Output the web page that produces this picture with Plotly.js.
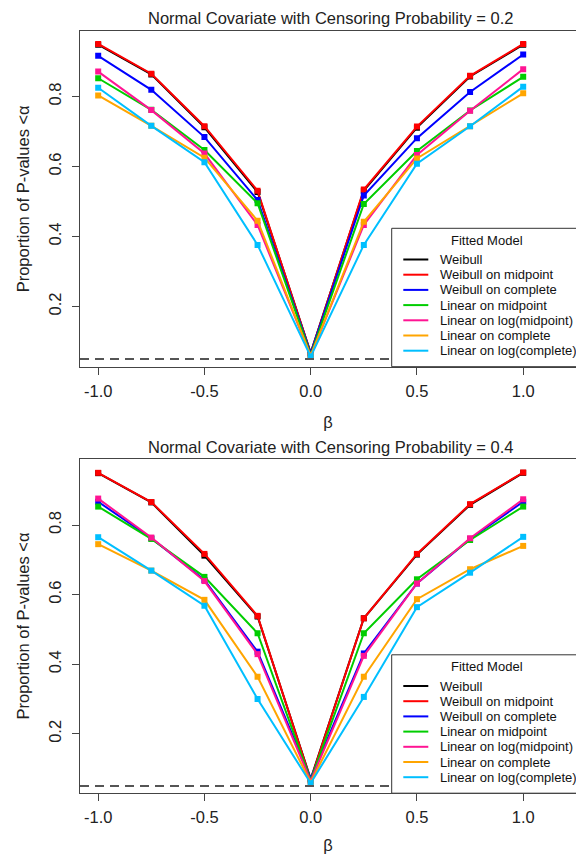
<!DOCTYPE html>
<html>
<head>
<meta charset="utf-8">
<script src="https://cdn.plot.ly/plotly-3.0.1.min.js"></script>
<style>html,body{margin:0;padding:0;background:#fff;}#chart{width:576px;height:854px;}</style>
</head>
<body>
<div id="chart"></div>
<script>
// x values (beta)
const beta = [-1, -0.75, -0.5, -0.25, 0, 0.25, 0.5, 0.75, 1];
const xTickVals = [-1, -0.5, 0, 0.5, 1];
const xTickText = ["-1.0", "-0.5", "0.0", "0.5", "1.0"];
const yTickVals = [0.2, 0.4, 0.6, 0.8];
const yTickText = ["0.2", "0.4", "0.6", "0.8"];

const seriesNames = ["Weibull", "Weibull on midpoint", "Weibull on complete", "Linear on midpoint",
  "Linear on log(midpoint)", "Linear on complete", "Linear on log(complete)"];
const seriesColors = ["#000000", "#FF0000", "#0000FF", "#00CD00", "#FF1493", "#FFA500", "#00BFFF"];
const legendTitle = "Fitted Model";

const panelTitles = ["Normal Covariate with Censoring Probability = 0.2",
  "Normal Covariate with Censoring Probability = 0.4"];
const alphaLevel = 0.05;

// Censoring probability 0.2
const c02_weibull     = [0.948, 0.863, 0.712, 0.527, 0.068, 0.531, 0.711, 0.857, 0.948];
const c02_weibullMid  = [0.950, 0.865, 0.715, 0.531, 0.066, 0.534, 0.714, 0.859, 0.950];
const c02_weibullComp = [0.916, 0.819, 0.684, 0.504, 0.066, 0.517, 0.681, 0.813, 0.920];
const c02_linMid      = [0.852, 0.762, 0.647, 0.495, 0.062, 0.493, 0.644, 0.760, 0.856];
const c02_linLogMid   = [0.871, 0.761, 0.637, 0.433, 0.060, 0.433, 0.633, 0.759, 0.878];
const c02_linComp     = [0.803, 0.716, 0.625, 0.445, 0.059, 0.442, 0.623, 0.715, 0.809];
const c02_linLogComp  = [0.825, 0.716, 0.612, 0.376, 0.057, 0.376, 0.608, 0.715, 0.828];

// Censoring probability 0.4
const c04_weibull     = [0.949, 0.865, 0.712, 0.537, 0.070, 0.532, 0.715, 0.858, 0.950];
const c04_weibullMid  = [0.950, 0.866, 0.717, 0.539, 0.068, 0.532, 0.717, 0.860, 0.951];
const c04_weibullComp = [0.867, 0.762, 0.642, 0.436, 0.072, 0.431, 0.632, 0.760, 0.867];
const c04_linMid      = [0.853, 0.760, 0.651, 0.489, 0.066, 0.489, 0.644, 0.757, 0.853];
const c04_linLogMid   = [0.876, 0.764, 0.639, 0.429, 0.064, 0.424, 0.632, 0.762, 0.874];
const c04_linComp     = [0.745, 0.669, 0.585, 0.364, 0.060, 0.364, 0.587, 0.673, 0.740];
const c04_linLogComp  = [0.765, 0.669, 0.568, 0.300, 0.058, 0.306, 0.564, 0.663, 0.766];

const panels = [
  [c02_weibull, c02_weibullMid, c02_weibullComp, c02_linMid, c02_linLogMid, c02_linComp, c02_linLogComp],
  [c04_weibull, c04_weibullMid, c04_weibullComp, c04_linMid, c04_linLogMid, c04_linComp, c04_linLogComp]
];

const FONT = "Liberation Sans, Arial, sans-serif";
const W = 576, H = 854, ML = 80, MR = 0, MT = 31, MB = 61;
const PW = W - ML - MR, PH = H - MT - MB;
function px(xpix) { return (xpix - ML) / PW; }
function py(ypix) { return (H - MB - ypix) / PH; }

const traces = [];
panels.forEach(function (series, p) {
  const xa = p === 0 ? "x" : "x2";
  const ya = p === 0 ? "y" : "y2";
  series.forEach(function (vals, i) {
    traces.push({
      x: beta, y: vals, type: "scatter", mode: "lines+markers",
      line: {color: seriesColors[i], width: 2},
      marker: {symbol: "square", size: 6, color: seriesColors[i]},
      name: seriesNames[i], xaxis: xa, yaxis: ya, showlegend: false,
      hoverinfo: "skip"
    });
  });
});

const axisCommon = {
  showgrid: false, zeroline: false, showline: true, linecolor: "#444", linewidth: 1,
  ticks: "outside", ticklen: 7, tickwidth: 1, tickcolor: "#444",
  tickfont: {family: FONT, size: 16.5, color: "#222"}
};

function xAxis(anchor) {
  return Object.assign({}, axisCommon, {
    anchor: anchor, domain: [0, 1], range: [-1.0856, 1.2485], mirror: true,
    tickvals: xTickVals, ticktext: xTickText, ticklabelstandoff: 2,
    title: {text: "β", font: {family: FONT, size: 16.5, color: "#222"}, standoff: 17}
  });
}
function yAxis(anchor, domain, range) {
  return Object.assign({}, axisCommon, {
    anchor: anchor, domain: domain, range: range,
    tickvals: yTickVals, ticktext: yTickText, tickangle: -90, ticklabelstandoff: 4,
    title: {text: "Proportion of P-values &lt;α", font: {family: FONT, size: 16.5, color: "#222"}, standoff: 12}
  });
}

const shapes = [
  {type: "line", xref: "x domain", x0: 0, x1: 1, yref: "y", y0: alphaLevel, y1: alphaLevel,
   line: {color: "#555", width: 2, dash: "9px,6px"}, layer: "above"},
  {type: "line", xref: "x2 domain", x0: 0, x1: 1, yref: "y2", y0: alphaLevel, y1: alphaLevel,
   line: {color: "#555", width: 2, dash: "9px,6px"}, layer: "above"}
];
const annotations = [
  {text: panelTitles[0], xref: "paper", yref: "paper", x: 0.506, y: py(18),
   xanchor: "center", yanchor: "middle", showarrow: false, font: {family: FONT, size: 16.5, color: "#222"}},
  {text: panelTitles[1], xref: "paper", yref: "paper", x: 0.506, y: py(447),
   xanchor: "center", yanchor: "middle", showarrow: false, font: {family: FONT, size: 16.5, color: "#222"}}
];

// Legends drawn in each panel's bottom-right corner (box runs past the right edge, as in the original)
[0, 426.5].forEach(function (dy) {
  shapes.push({type: "rect", xref: "paper", yref: "paper", x0: px(391.7), x1: px(600),
    y0: py(366.7 + dy), y1: py(228.3 + dy), fillcolor: "#ffffff", line: {color: "#333", width: 1}, layer: "above"});
  annotations.push({text: legendTitle, xref: "paper", yref: "paper", x: px(487), y: py(240 + dy),
    xanchor: "center", yanchor: "middle", showarrow: false, font: {family: FONT, size: 13, color: "#111"}});
  seriesNames.forEach(function (nm, i) {
    const yy = 259.5 + 15.2 * i + dy;
    shapes.push({type: "line", xref: "paper", yref: "paper", x0: px(403.3), x1: px(428.3),
      y0: py(yy), y1: py(yy), line: {color: seriesColors[i], width: 2}, layer: "above"});
    annotations.push({text: nm, xref: "paper", yref: "paper", x: px(438.3), y: py(yy),
      xanchor: "left", yanchor: "middle", showarrow: false, font: {family: FONT, size: 13, color: "#111"}});
  });
});

const layout = {
  width: W, height: H,
  margin: {l: ML, r: MR, t: MT, b: MB},
  paper_bgcolor: "#fff", plot_bgcolor: "#fff",
  font: {family: FONT, color: "#222"},
  showlegend: false,
  xaxis: xAxis("y"),
  yaxis: yAxis("x", [0.5594, 1], [0.028, 0.987]),
  xaxis2: xAxis("y2"),
  yaxis2: yAxis("x2", [0, 0.4383], [0.0299, 0.9897]),
  shapes: shapes,
  annotations: annotations
};

Plotly.newPlot("chart", traces, layout, {displayModeBar: false, staticPlot: true});
</script>
</body>
</html>
